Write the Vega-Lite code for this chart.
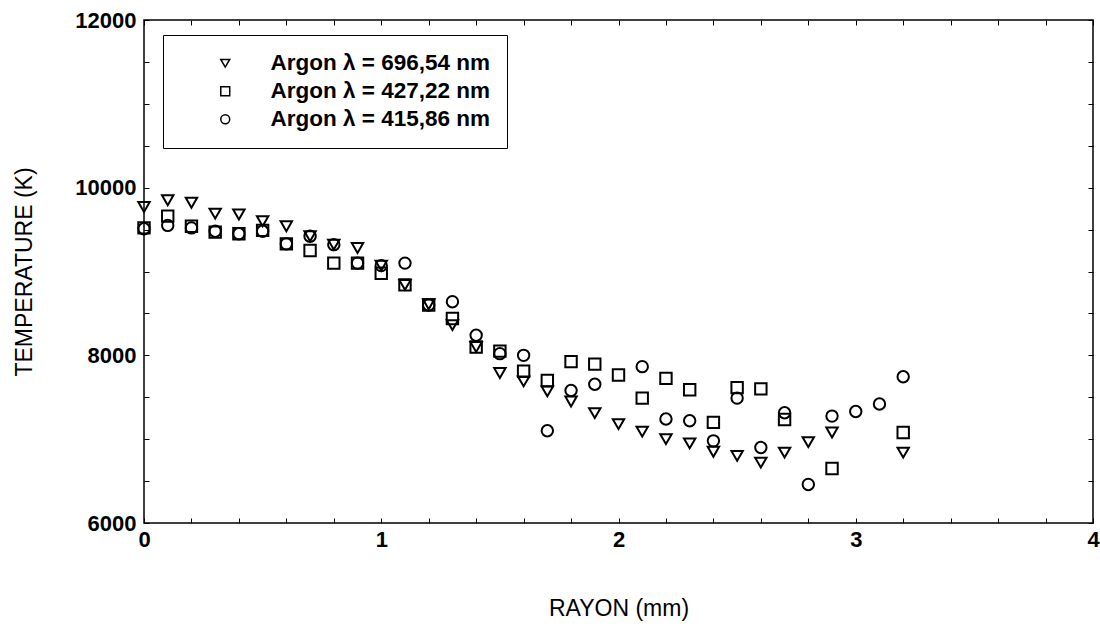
{
  "$schema": "https://vega.github.io/schema/vega-lite/v6.json",
  "width": 949,
  "height": 503,
  "autosize": {"type": "none"},
  "padding": {"left": 144, "top": 20, "right": 7, "bottom": 110},
  "background": "white",
  "config": {
    "view": {"stroke": "black", "strokeWidth": 1.5},
    "font": "Liberation Sans"
  },
  "data": {
    "values": [
      {"r": 0.0, "t": 9770, "s": "Argon λ = 696,54 nm"},
      {"r": 0.1, "t": 9850, "s": "Argon λ = 696,54 nm"},
      {"r": 0.2, "t": 9820, "s": "Argon λ = 696,54 nm"},
      {"r": 0.3, "t": 9690, "s": "Argon λ = 696,54 nm"},
      {"r": 0.4, "t": 9680, "s": "Argon λ = 696,54 nm"},
      {"r": 0.5, "t": 9600, "s": "Argon λ = 696,54 nm"},
      {"r": 0.6, "t": 9540, "s": "Argon λ = 696,54 nm"},
      {"r": 0.7, "t": 9420, "s": "Argon λ = 696,54 nm"},
      {"r": 0.8, "t": 9320, "s": "Argon λ = 696,54 nm"},
      {"r": 0.9, "t": 9280, "s": "Argon λ = 696,54 nm"},
      {"r": 1.0, "t": 9070, "s": "Argon λ = 696,54 nm"},
      {"r": 1.1, "t": 8840, "s": "Argon λ = 696,54 nm"},
      {"r": 1.2, "t": 8610, "s": "Argon λ = 696,54 nm"},
      {"r": 1.3, "t": 8360, "s": "Argon λ = 696,54 nm"},
      {"r": 1.4, "t": 8100, "s": "Argon λ = 696,54 nm"},
      {"r": 1.5, "t": 7790, "s": "Argon λ = 696,54 nm"},
      {"r": 1.6, "t": 7690, "s": "Argon λ = 696,54 nm"},
      {"r": 1.7, "t": 7570, "s": "Argon λ = 696,54 nm"},
      {"r": 1.8, "t": 7450, "s": "Argon λ = 696,54 nm"},
      {"r": 1.9, "t": 7310, "s": "Argon λ = 696,54 nm"},
      {"r": 2.0, "t": 7180, "s": "Argon λ = 696,54 nm"},
      {"r": 2.1, "t": 7090, "s": "Argon λ = 696,54 nm"},
      {"r": 2.2, "t": 7000, "s": "Argon λ = 696,54 nm"},
      {"r": 2.3, "t": 6950, "s": "Argon λ = 696,54 nm"},
      {"r": 2.4, "t": 6850, "s": "Argon λ = 696,54 nm"},
      {"r": 2.5, "t": 6800, "s": "Argon λ = 696,54 nm"},
      {"r": 2.6, "t": 6720, "s": "Argon λ = 696,54 nm"},
      {"r": 2.7, "t": 6840, "s": "Argon λ = 696,54 nm"},
      {"r": 2.8, "t": 6965, "s": "Argon λ = 696,54 nm"},
      {"r": 2.9, "t": 7080, "s": "Argon λ = 696,54 nm"},
      {"r": 3.2, "t": 6840, "s": "Argon λ = 696,54 nm"},
      {"r": 0.0, "t": 9520, "s": "Argon λ = 427,22 nm"},
      {"r": 0.1, "t": 9660, "s": "Argon λ = 427,22 nm"},
      {"r": 0.2, "t": 9540, "s": "Argon λ = 427,22 nm"},
      {"r": 0.3, "t": 9470, "s": "Argon λ = 427,22 nm"},
      {"r": 0.4, "t": 9450, "s": "Argon λ = 427,22 nm"},
      {"r": 0.5, "t": 9490, "s": "Argon λ = 427,22 nm"},
      {"r": 0.6, "t": 9330, "s": "Argon λ = 427,22 nm"},
      {"r": 0.7, "t": 9250, "s": "Argon λ = 427,22 nm"},
      {"r": 0.8, "t": 9100, "s": "Argon λ = 427,22 nm"},
      {"r": 0.9, "t": 9100, "s": "Argon λ = 427,22 nm"},
      {"r": 1.0, "t": 8980, "s": "Argon λ = 427,22 nm"},
      {"r": 1.1, "t": 8840, "s": "Argon λ = 427,22 nm"},
      {"r": 1.2, "t": 8600, "s": "Argon λ = 427,22 nm"},
      {"r": 1.3, "t": 8440, "s": "Argon λ = 427,22 nm"},
      {"r": 1.4, "t": 8100, "s": "Argon λ = 427,22 nm"},
      {"r": 1.5, "t": 8050, "s": "Argon λ = 427,22 nm"},
      {"r": 1.6, "t": 7810, "s": "Argon λ = 427,22 nm"},
      {"r": 1.7, "t": 7700, "s": "Argon λ = 427,22 nm"},
      {"r": 1.8, "t": 7925, "s": "Argon λ = 427,22 nm"},
      {"r": 1.9, "t": 7895, "s": "Argon λ = 427,22 nm"},
      {"r": 2.0, "t": 7765, "s": "Argon λ = 427,22 nm"},
      {"r": 2.1, "t": 7490, "s": "Argon λ = 427,22 nm"},
      {"r": 2.2, "t": 7725, "s": "Argon λ = 427,22 nm"},
      {"r": 2.3, "t": 7590, "s": "Argon λ = 427,22 nm"},
      {"r": 2.4, "t": 7200, "s": "Argon λ = 427,22 nm"},
      {"r": 2.5, "t": 7615, "s": "Argon λ = 427,22 nm"},
      {"r": 2.6, "t": 7600, "s": "Argon λ = 427,22 nm"},
      {"r": 2.7, "t": 7235, "s": "Argon λ = 427,22 nm"},
      {"r": 2.9, "t": 6650, "s": "Argon λ = 427,22 nm"},
      {"r": 3.2, "t": 7080, "s": "Argon λ = 427,22 nm"},
      {"r": 0.0, "t": 9510, "s": "Argon λ = 415,86 nm"},
      {"r": 0.1, "t": 9550, "s": "Argon λ = 415,86 nm"},
      {"r": 0.2, "t": 9520, "s": "Argon λ = 415,86 nm"},
      {"r": 0.3, "t": 9480, "s": "Argon λ = 415,86 nm"},
      {"r": 0.4, "t": 9450, "s": "Argon λ = 415,86 nm"},
      {"r": 0.5, "t": 9480, "s": "Argon λ = 415,86 nm"},
      {"r": 0.6, "t": 9330, "s": "Argon λ = 415,86 nm"},
      {"r": 0.7, "t": 9420, "s": "Argon λ = 415,86 nm"},
      {"r": 0.8, "t": 9320, "s": "Argon λ = 415,86 nm"},
      {"r": 0.9, "t": 9100, "s": "Argon λ = 415,86 nm"},
      {"r": 1.0, "t": 9070, "s": "Argon λ = 415,86 nm"},
      {"r": 1.1, "t": 9100, "s": "Argon λ = 415,86 nm"},
      {"r": 1.2, "t": 8600, "s": "Argon λ = 415,86 nm"},
      {"r": 1.3, "t": 8640, "s": "Argon λ = 415,86 nm"},
      {"r": 1.4, "t": 8240, "s": "Argon λ = 415,86 nm"},
      {"r": 1.5, "t": 8020, "s": "Argon λ = 415,86 nm"},
      {"r": 1.6, "t": 8000, "s": "Argon λ = 415,86 nm"},
      {"r": 1.7, "t": 7100, "s": "Argon λ = 415,86 nm"},
      {"r": 1.8, "t": 7580, "s": "Argon λ = 415,86 nm"},
      {"r": 1.9, "t": 7655, "s": "Argon λ = 415,86 nm"},
      {"r": 2.1, "t": 7865, "s": "Argon λ = 415,86 nm"},
      {"r": 2.2, "t": 7240, "s": "Argon λ = 415,86 nm"},
      {"r": 2.3, "t": 7220, "s": "Argon λ = 415,86 nm"},
      {"r": 2.4, "t": 6980, "s": "Argon λ = 415,86 nm"},
      {"r": 2.5, "t": 7490, "s": "Argon λ = 415,86 nm"},
      {"r": 2.6, "t": 6900, "s": "Argon λ = 415,86 nm"},
      {"r": 2.7, "t": 7315, "s": "Argon λ = 415,86 nm"},
      {"r": 2.8, "t": 6460, "s": "Argon λ = 415,86 nm"},
      {"r": 2.9, "t": 7275, "s": "Argon λ = 415,86 nm"},
      {"r": 3.0, "t": 7330, "s": "Argon λ = 415,86 nm"},
      {"r": 3.1, "t": 7420, "s": "Argon λ = 415,86 nm"},
      {"r": 3.2, "t": 7745, "s": "Argon λ = 415,86 nm"}
    ]
  },
  "layer": [
    {
      "mark": {"type": "point", "filled": false, "color": "black", "strokeWidth": 2, "size": 130, "opacity": 1},
      "encoding": {
        "x": {
          "field": "r", "type": "quantitative",
          "scale": {"domain": [0, 4], "nice": false, "zero": false},
          "axis": {
            "orient": "bottom",
            "values": [0, 0.2, 0.4, 0.6, 0.8, 1, 1.2, 1.4, 1.6, 1.8, 2, 2.2, 2.4, 2.6, 2.8, 3, 3.2, 3.4, 3.6, 3.8, 4],
            "labelExpr": "abs(datum.value - round(datum.value)) < 0.001 ? format(datum.value, 'd') : ''",
            "labelFlush": false, "labelOverlap": false,
            "labelFont": "Liberation Sans", "labelFontSize": 22, "labelFontWeight": "bold", "labelColor": "black",
            "labelPadding": 11,
            "tickSize": -5, "tickColor": "black", "tickWidth": 1,
            "domain": false, "grid": false,
            "title": "RAYON (mm)", "titleFont": "Liberation Sans", "titleFontSize": 23, "titleFontWeight": "normal", "titleColor": "black",
            "titlePadding": 47
          }
        },
        "y": {
          "field": "t", "type": "quantitative",
          "scale": {"domain": [6000, 12000], "nice": false, "zero": false},
          "axis": {
            "orient": "left",
            "values": [6000, 6500, 7000, 7500, 8000, 8500, 9000, 9500, 10000, 10500, 11000, 11500, 12000],
            "format": "d",
            "labelExpr": "datum.value % 2000 === 0 ? datum.label : ''",
            "labelOverlap": false, "labelFlush": false,
            "labelFont": "Liberation Sans", "labelFontSize": 22, "labelFontWeight": "bold", "labelColor": "black",
            "labelPadding": 13,
            "tickSize": -5, "tickColor": "black", "tickWidth": 1,
            "domain": false, "grid": false,
            "title": "TEMPERATURE (K)", "titleFont": "Liberation Sans", "titleFontSize": 23, "titleFontWeight": "normal", "titleColor": "black",
            "titlePadding": 38
          }
        },
        "shape": {
          "field": "s", "type": "nominal",
          "scale": {
            "domain": ["Argon λ = 696,54 nm", "Argon λ = 427,22 nm", "Argon λ = 415,86 nm"],
            "range": ["triangle-down", "square", "circle"]
          },
          "legend": {
            "title": null,
            "orient": "none", "legendX": 19, "legendY": 15,
            "strokeColor": "black", "fillColor": "white",
            "padding": 17,
            "symbolOffset": 34, "symbolSize": 80, "symbolStrokeWidth": 1.5, "symbolStrokeColor": "black", "symbolFillColor": "transparent", "symbolType": "circle",
            "labelOffset": 34, "labelFont": "Liberation Sans", "labelFontSize": 22.5, "labelFontWeight": "bold", "labelColor": "black",
            "rowPadding": 5, "labelLimit": 400
          }
        }
      }
    },
    {
      "mark": {"type": "point", "opacity": 0},
      "encoding": {
        "x": {
          "field": "r", "type": "quantitative",
          "axis": {
            "orient": "top",
            "values": [0, 0.2, 0.4, 0.6, 0.8, 1, 1.2, 1.4, 1.6, 1.8, 2, 2.2, 2.4, 2.6, 2.8, 3, 3.2, 3.4, 3.6, 3.8, 4],
            "labels": false, "title": null, "domain": false, "grid": false,
            "tickSize": -5, "tickColor": "black", "tickWidth": 1
          }
        },
        "y": {
          "field": "t", "type": "quantitative",
          "axis": {
            "orient": "right",
            "values": [6000, 6500, 7000, 7500, 8000, 8500, 9000, 9500, 10000, 10500, 11000, 11500, 12000],
            "labels": false, "title": null, "domain": false, "grid": false,
            "tickSize": -5, "tickColor": "black", "tickWidth": 1
          }
        }
      }
    }
  ],
  "resolve": {"axis": {"x": "independent", "y": "independent"}}
}
